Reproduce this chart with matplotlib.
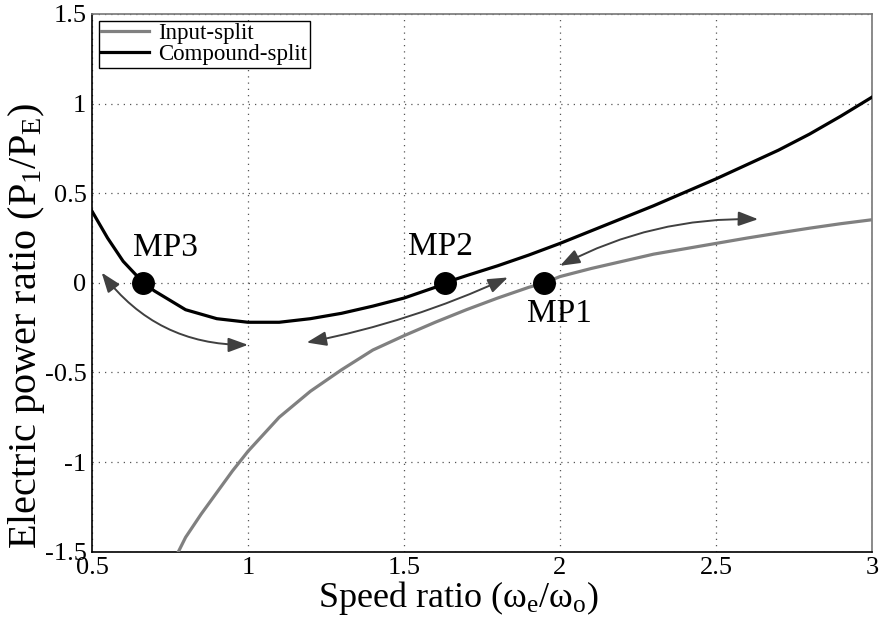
import numpy as np
import matplotlib
matplotlib.use('Agg')
import matplotlib.pyplot as plt

plt.rcParams['font.family'] = ['Liberation Serif', 'DejaVu Serif']
plt.rcParams['mathtext.fontset'] = 'custom'
plt.rcParams['mathtext.rm'] = 'Liberation Serif'
plt.rcParams['mathtext.it'] = 'Liberation Serif:italic'

# Input-split curve
input_x = [0.777, 0.8, 0.85, 0.9, 0.95, 1.0, 1.1, 1.2, 1.3, 1.4, 1.5, 1.6, 1.7,
           1.8, 1.9, 1.95, 2.0, 2.1, 2.2, 2.3, 2.4, 2.5, 2.6, 2.7, 2.8, 2.9, 3.0]
input_y = [-1.5, -1.42, -1.29, -1.17, -1.05, -0.94, -0.75, -0.605, -0.485,
           -0.375, -0.295, -0.22, -0.15, -0.085, -0.025, 0.0, 0.035, 0.08,
           0.12, 0.16, 0.19, 0.22, 0.25, 0.278, 0.305, 0.33, 0.352]

# Compound-split curve
comp_x = [0.5, 0.55, 0.6, 0.665, 0.7, 0.8, 0.9, 1.0, 1.1, 1.2, 1.3, 1.4, 1.5,
          1.6, 1.63, 1.7, 1.8, 1.9, 2.0, 2.1, 2.2, 2.3, 2.4, 2.5, 2.6, 2.7,
          2.8, 2.9, 3.0]
comp_y = [0.40, 0.25, 0.12, 0.0, -0.045, -0.15, -0.20, -0.22, -0.22, -0.20,
          -0.17, -0.13, -0.085, -0.025, 0.0, 0.04, 0.095, 0.155, 0.22, 0.29,
          0.36, 0.43, 0.505, 0.58, 0.66, 0.74, 0.83, 0.93, 1.036]

# mode points
mp_x = [1.95, 1.632, 0.665]
mp_y = [0.0, 0.0, 0.0]
mp_labels = ['MP1', 'MP2', 'MP3']

fig = plt.figure(figsize=(8.81, 6.21), dpi=100)
ax = fig.add_axes([0.1044, 0.1116, 0.8854, 0.8659])

ax.plot(input_x, input_y, color='#808080', lw=2.3, label='Input-split', zorder=3)
ax.plot(comp_x, comp_y, color='black', lw=2.3, label='Compound-split', zorder=3)
ax.plot(mp_x, mp_y, 'o', color='black', ms=15.5, zorder=5)

# labels next to the points
ax.text(1.894, -0.216, mp_labels[0], fontsize=24, ha='left', va='baseline')
ax.text(1.513, 0.156, mp_labels[1], fontsize=24, ha='left', va='baseline')
ax.text(0.631, 0.151, mp_labels[2], fontsize=24, ha='left', va='baseline')

# double arrows
arr = dict(arrowstyle='<|-|>,head_length=0.6,head_width=0.22', color='#404040',
           lw=1.4, mutation_scale=20, shrinkA=0, shrinkB=0)
ax.annotate('', xy=(1.0, -0.346), xytext=(0.531, 0.057),
            arrowprops=dict(arr, connectionstyle='arc3,rad=0.25'))
ax.annotate('', xy=(1.833, 0.03), xytext=(1.188, -0.333),
            arrowprops=dict(arr, connectionstyle='arc3,rad=0.06'))
ax.annotate('', xy=(2.635, 0.355), xytext=(2.0, 0.095),
            arrowprops=dict(arr, connectionstyle='arc3,rad=-0.13'))

ax.set_xlim(0.5, 3)
ax.set_ylim(-1.5, 1.5)
ax.set_xticks([0.5, 1, 1.5, 2, 2.5, 3])
ax.set_xticklabels(['0.5', '1', '1.5', '2', '2.5', '3'])
ax.set_yticks([-1.5, -1, -0.5, 0, 0.5, 1, 1.5])
ax.set_yticklabels(['-1.5', '-1', '-0.5', '0', '0.5', '1', '1.5'])
ax.tick_params(length=0, labelsize=19, pad=4)
ax.grid(True, color='#555555', linestyle=(0, (1, 4)), lw=0.9)

ax.spines['left'].set_color('black')
ax.spines['bottom'].set_color('black')
ax.spines['top'].set_color('#777777')
ax.spines['right'].set_color('#777777')
for s in ax.spines.values():
    s.set_linewidth(1.2)

ax.set_xlabel('Speed ratio (ω$_\\mathrm{e}$/ω$_\\mathrm{o}$)', fontsize=26)
ax.set_ylabel('Electric power ratio (P$_\\mathrm{1}$/P$_\\mathrm{E}$)', fontsize=29)
ax.xaxis.set_label_coords(0.47, -0.05)
ax.yaxis.set_label_coords(-0.058, 0.42)

leg = ax.legend(loc='upper left', fontsize=16.5, fancybox=False, edgecolor='black',
                framealpha=1, handlelength=2.1, borderpad=0.1, labelspacing=0.0,
                borderaxespad=0.3, handletextpad=0.4)
leg.get_frame().set_linewidth(1.0)

fig.savefig('out.png', dpi=100)
